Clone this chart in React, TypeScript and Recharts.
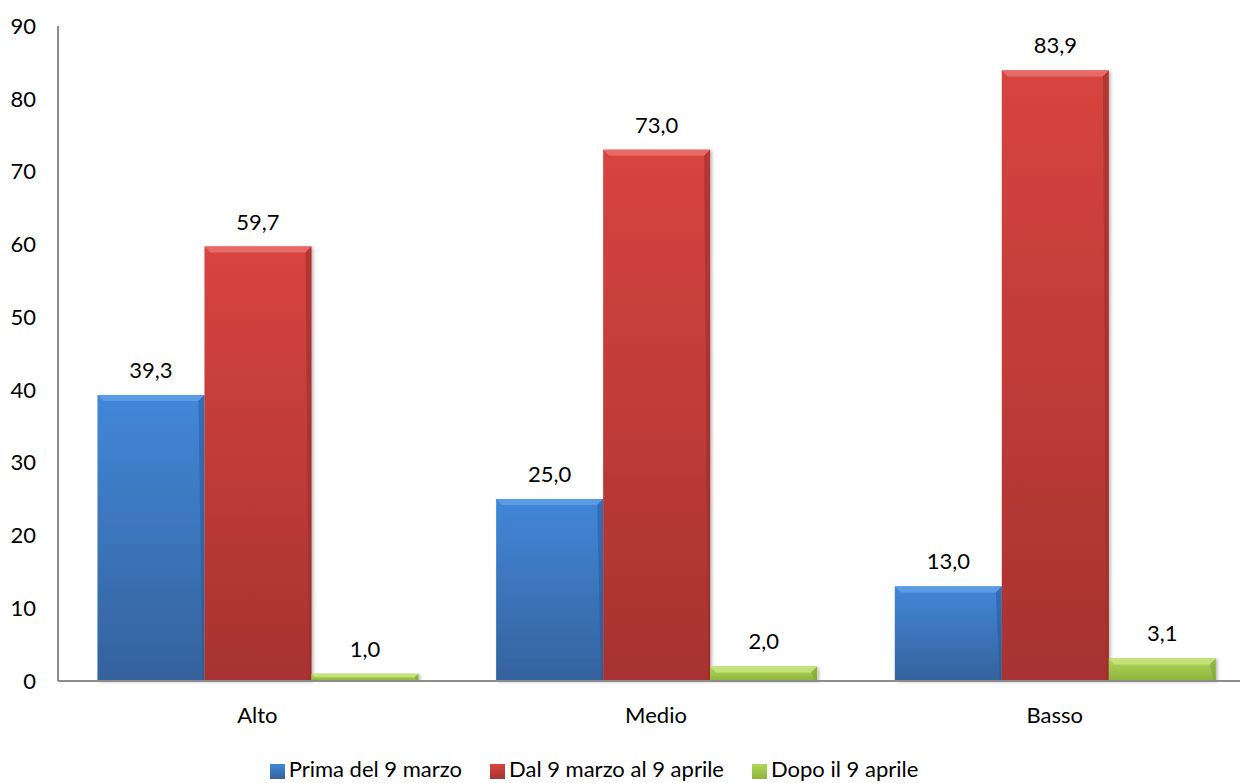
import React from 'react';
import { BarChart, Bar, XAxis, YAxis, Legend, LabelList } from 'recharts';

const categories = ['Alto', 'Medio', 'Basso'];
const primaDel9Marzo = [39.3, 25.0, 13.0];
const dal9MarzoAl9Aprile = [59.7, 73.0, 83.9];
const dopoIl9Aprile = [1.0, 2.0, 3.1];
const yTicks = [0, 10, 20, 30, 40, 50, 60, 70, 80, 90];

const seriesNames = ['Prima del 9 marzo', 'Dal 9 marzo al 9 aprile', 'Dopo il 9 aprile'];

const data = categories.map((c, i) => ({
  name: c,
  prima: primaDel9Marzo[i],
  dal: dal9MarzoAl9Aprile[i],
  dopo: dopoIl9Aprile[i],
}));

const font = 'Lato, "Open Sans", sans-serif';
const fmt = (v: any) => Number(v).toFixed(1).replace('.', ',');
const labelStyle = { fill: '#000', fontSize: 22, fontFamily: font };

// bar with a light bevel on top, like the office chart
const bevelShape = (top: string, side: string) => (props: any) => {
  const { x, y, width, height, fill } = props;
  if (!height || height <= 0) return <g />;
  const b = Math.min(6, height / 2);
  return (
    <g filter="url(#shadow)">
      <rect x={x} y={y} width={width} height={height} fill={fill} />
      <polygon points={`${x},${y} ${x + width},${y} ${x + width - b},${y + b} ${x + b},${y + b}`} fill={top} />
      <polygon points={`${x + width},${y} ${x + width},${y + height} ${x + width - 2},${y + height} ${x + width - b},${y + b}`} fill={side} opacity={0.5} />
    </g>
  );
};

export default function App() {
  return (
    <div style={{ position: 'absolute', left: 0, top: 0, width: 1240, height: 783, background: '#fff', fontFamily: font }}>
      <BarChart
        width={1240}
        height={783}
        data={data}
        margin={{ top: 26, right: -14, bottom: 1, left: 0 }}
        barCategoryGap="9.9%"
        barGap={0}
      >
        <defs>
          <linearGradient id="gBlue" x1="0" y1="0" x2="0" y2="1">
            <stop offset="0%" stopColor="#4287d9" />
            <stop offset="100%" stopColor="#34629c" />
          </linearGradient>
          <linearGradient id="gRed" x1="0" y1="0" x2="0" y2="1">
            <stop offset="0%" stopColor="#d8443f" />
            <stop offset="100%" stopColor="#a63331" />
          </linearGradient>
          <linearGradient id="gGreen" x1="0" y1="0" x2="0" y2="1">
            <stop offset="0%" stopColor="#b0d65a" />
            <stop offset="100%" stopColor="#8fb43e" />
          </linearGradient>
          <filter id="shadow" x="-5%" y="-5%" width="115%" height="115%">
            <feDropShadow dx="2" dy="1" stdDeviation="1.5" floodColor="#000" floodOpacity="0.25" />
          </filter>
        </defs>
        <XAxis
          dataKey="name"
          axisLine={{ stroke: '#8c8c8c', strokeWidth: 2 }}
          tickLine={false}
          tickSize={0}
          tickMargin={26}
          height={74}
          tick={{ fill: '#000', fontSize: 22, fontFamily: font }}
        />
        <YAxis
          domain={[0, 90]}
          ticks={yTicks}
          interval={0}
          width={58}
          axisLine={{ stroke: '#8c8c8c', strokeWidth: 2 }}
          tickLine={false}
          tickSize={0}
          tickMargin={22}
          tick={{ fill: '#000', fontSize: 22, fontFamily: font }}
        />
        <Legend
          verticalAlign="bottom"
          align="center"
          iconType="square"
          iconSize={15}
          itemSorter={(item: any) => seriesNames.indexOf(item.value)}
          wrapperStyle={{ fontSize: 22, fontFamily: font, left: -12, width: 1240 }}
          formatter={(value: string) => <span style={{ color: '#000', marginRight: 18 }}>{value}</span>}
        />
        <Bar dataKey="prima" name={seriesNames[0]} fill="url(#gBlue)" shape={bevelShape('#5a9be6', '#2a5590')} isAnimationActive={false}>
          <LabelList dataKey="prima" position="top" offset={17} formatter={fmt} style={labelStyle} />
        </Bar>
        <Bar dataKey="dal" name={seriesNames[1]} fill="url(#gRed)" shape={bevelShape('#e86a66', '#8e2a28')} isAnimationActive={false}>
          <LabelList dataKey="dal" position="top" offset={17} formatter={fmt} style={labelStyle} />
        </Bar>
        <Bar dataKey="dopo" name={seriesNames[2]} fill="url(#gGreen)" shape={bevelShape('#c4e27a', '#7a9c32')} isAnimationActive={false}>
          <LabelList dataKey="dopo" position="top" offset={17} formatter={fmt} style={labelStyle} />
        </Bar>
      </BarChart>
    </div>
  );
}
